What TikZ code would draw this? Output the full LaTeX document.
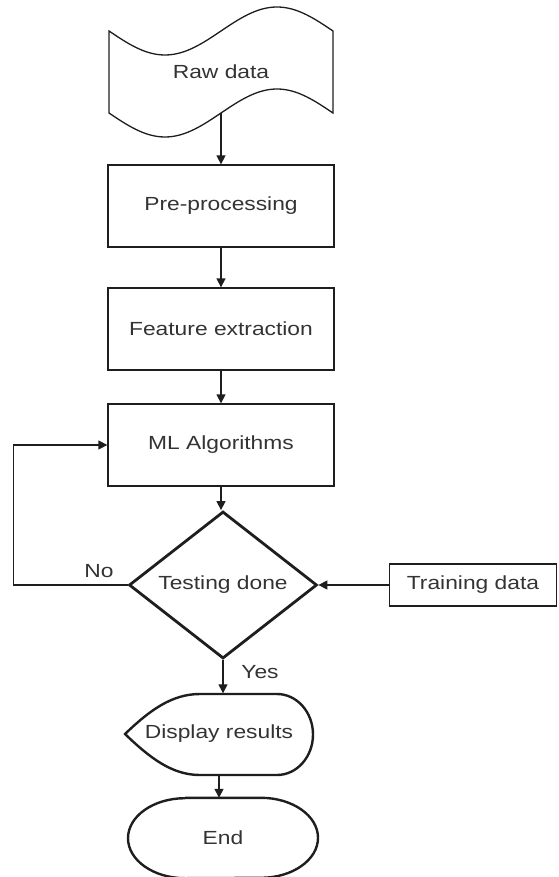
\documentclass[tikz,border=0pt]{standalone}
\usepackage{fontspec}
\setmainfont{Liberation Sans}[FakeStretch=1.2]
\usetikzlibrary{shapes.geometric,arrows.meta}
\definecolor{ink}{HTML}{1E1E1E}
\definecolor{txt}{HTML}{333333}
\tikzset{
	box/.style={draw=ink, line width=1.3pt, minimum width=226pt, minimum height=82pt, text=txt},
	decision/.style={diamond, draw=ink, line width=2.8pt, minimum width=188pt, minimum height=134pt, inner sep=0pt, text=txt},
	label/.style={text=txt, inner sep=0pt},
	flow/.style={draw=ink, line width=1.3pt, ->}
}
\begin{document}
\begin{tikzpicture}[x=1pt, y=-1pt, >={Triangle[length=9pt,width=9pt]},
	font=\fontsize{19}{22}\selectfont]
	\useasboundingbox (0,0) rectangle (558,877);

	% raw data (wavy input)
	\draw[ink, line width=1.3pt] (109,31) sin (165,55) cos (221,31) sin (277,7) cos (333,31)
		-- (333,113) sin (277,89) cos (221,113) sin (165,137) cos (109,113) -- cycle;
	\node[label] (raw) at (221,72) {Raw data};
	\coordinate (rawbot) at (221,113);

	% main chain
	\node[box] (pre) at (221,206) {Pre-processing};
	\node[box] (feat) at (221,329) {Feature extraction};
	\node[box] (ml) at (221,445) {ML Algorithms};
	\node[decision] (test) at (223,585) {Testing done};
	\node[box, minimum width=167pt, minimum height=42pt] (train) at (473,585) {Training data};

	% display results
	\draw[ink, line width=2.4pt] (125,734) .. controls (150,710) and (172,694) .. (200,694)
		-- (277,694) arc[start angle=90, end angle=-90, x radius=36pt, y radius=40.5pt]
		-- (200,775) .. controls (172,775) and (150,758) .. cycle;
	\node[label, minimum width=188pt, minimum height=81pt] (disp) at (219,734) {Display results};

	% end
	\node[label, minimum width=190pt, minimum height=80pt] (end) at (223,838) {End};
	\draw[ink, line width=2.4pt] ([xshift=-38pt]end.north) -- ([xshift=38pt]end.north)
		arc[start angle=90, end angle=-90, x radius=57pt, y radius=40pt]
		-- ([xshift=-38pt]end.south)
		arc[start angle=-90, end angle=-270, x radius=57pt, y radius=40pt];

	% connectors
	\draw[flow] (rawbot) -- (pre.north);
	\draw[flow] (pre) -- (feat);
	\draw[flow] (feat) -- (ml);
	\draw[flow] (ml.south) -- (ml.south |- test.north);
	\draw[flow] (train) -- (test.east);
	\draw[flow] (test.west) -- ++(-114,0) |- (ml.west);
	\draw[flow] (test.south) -- (test.south |- disp.north);
	\draw[flow] (disp.south) -- (disp.south |- end.north);

	\node[label] (no) at (99,571) {No};
	\node[label] (yes) at (260,672) {Yes};
\end{tikzpicture}
\end{document}
